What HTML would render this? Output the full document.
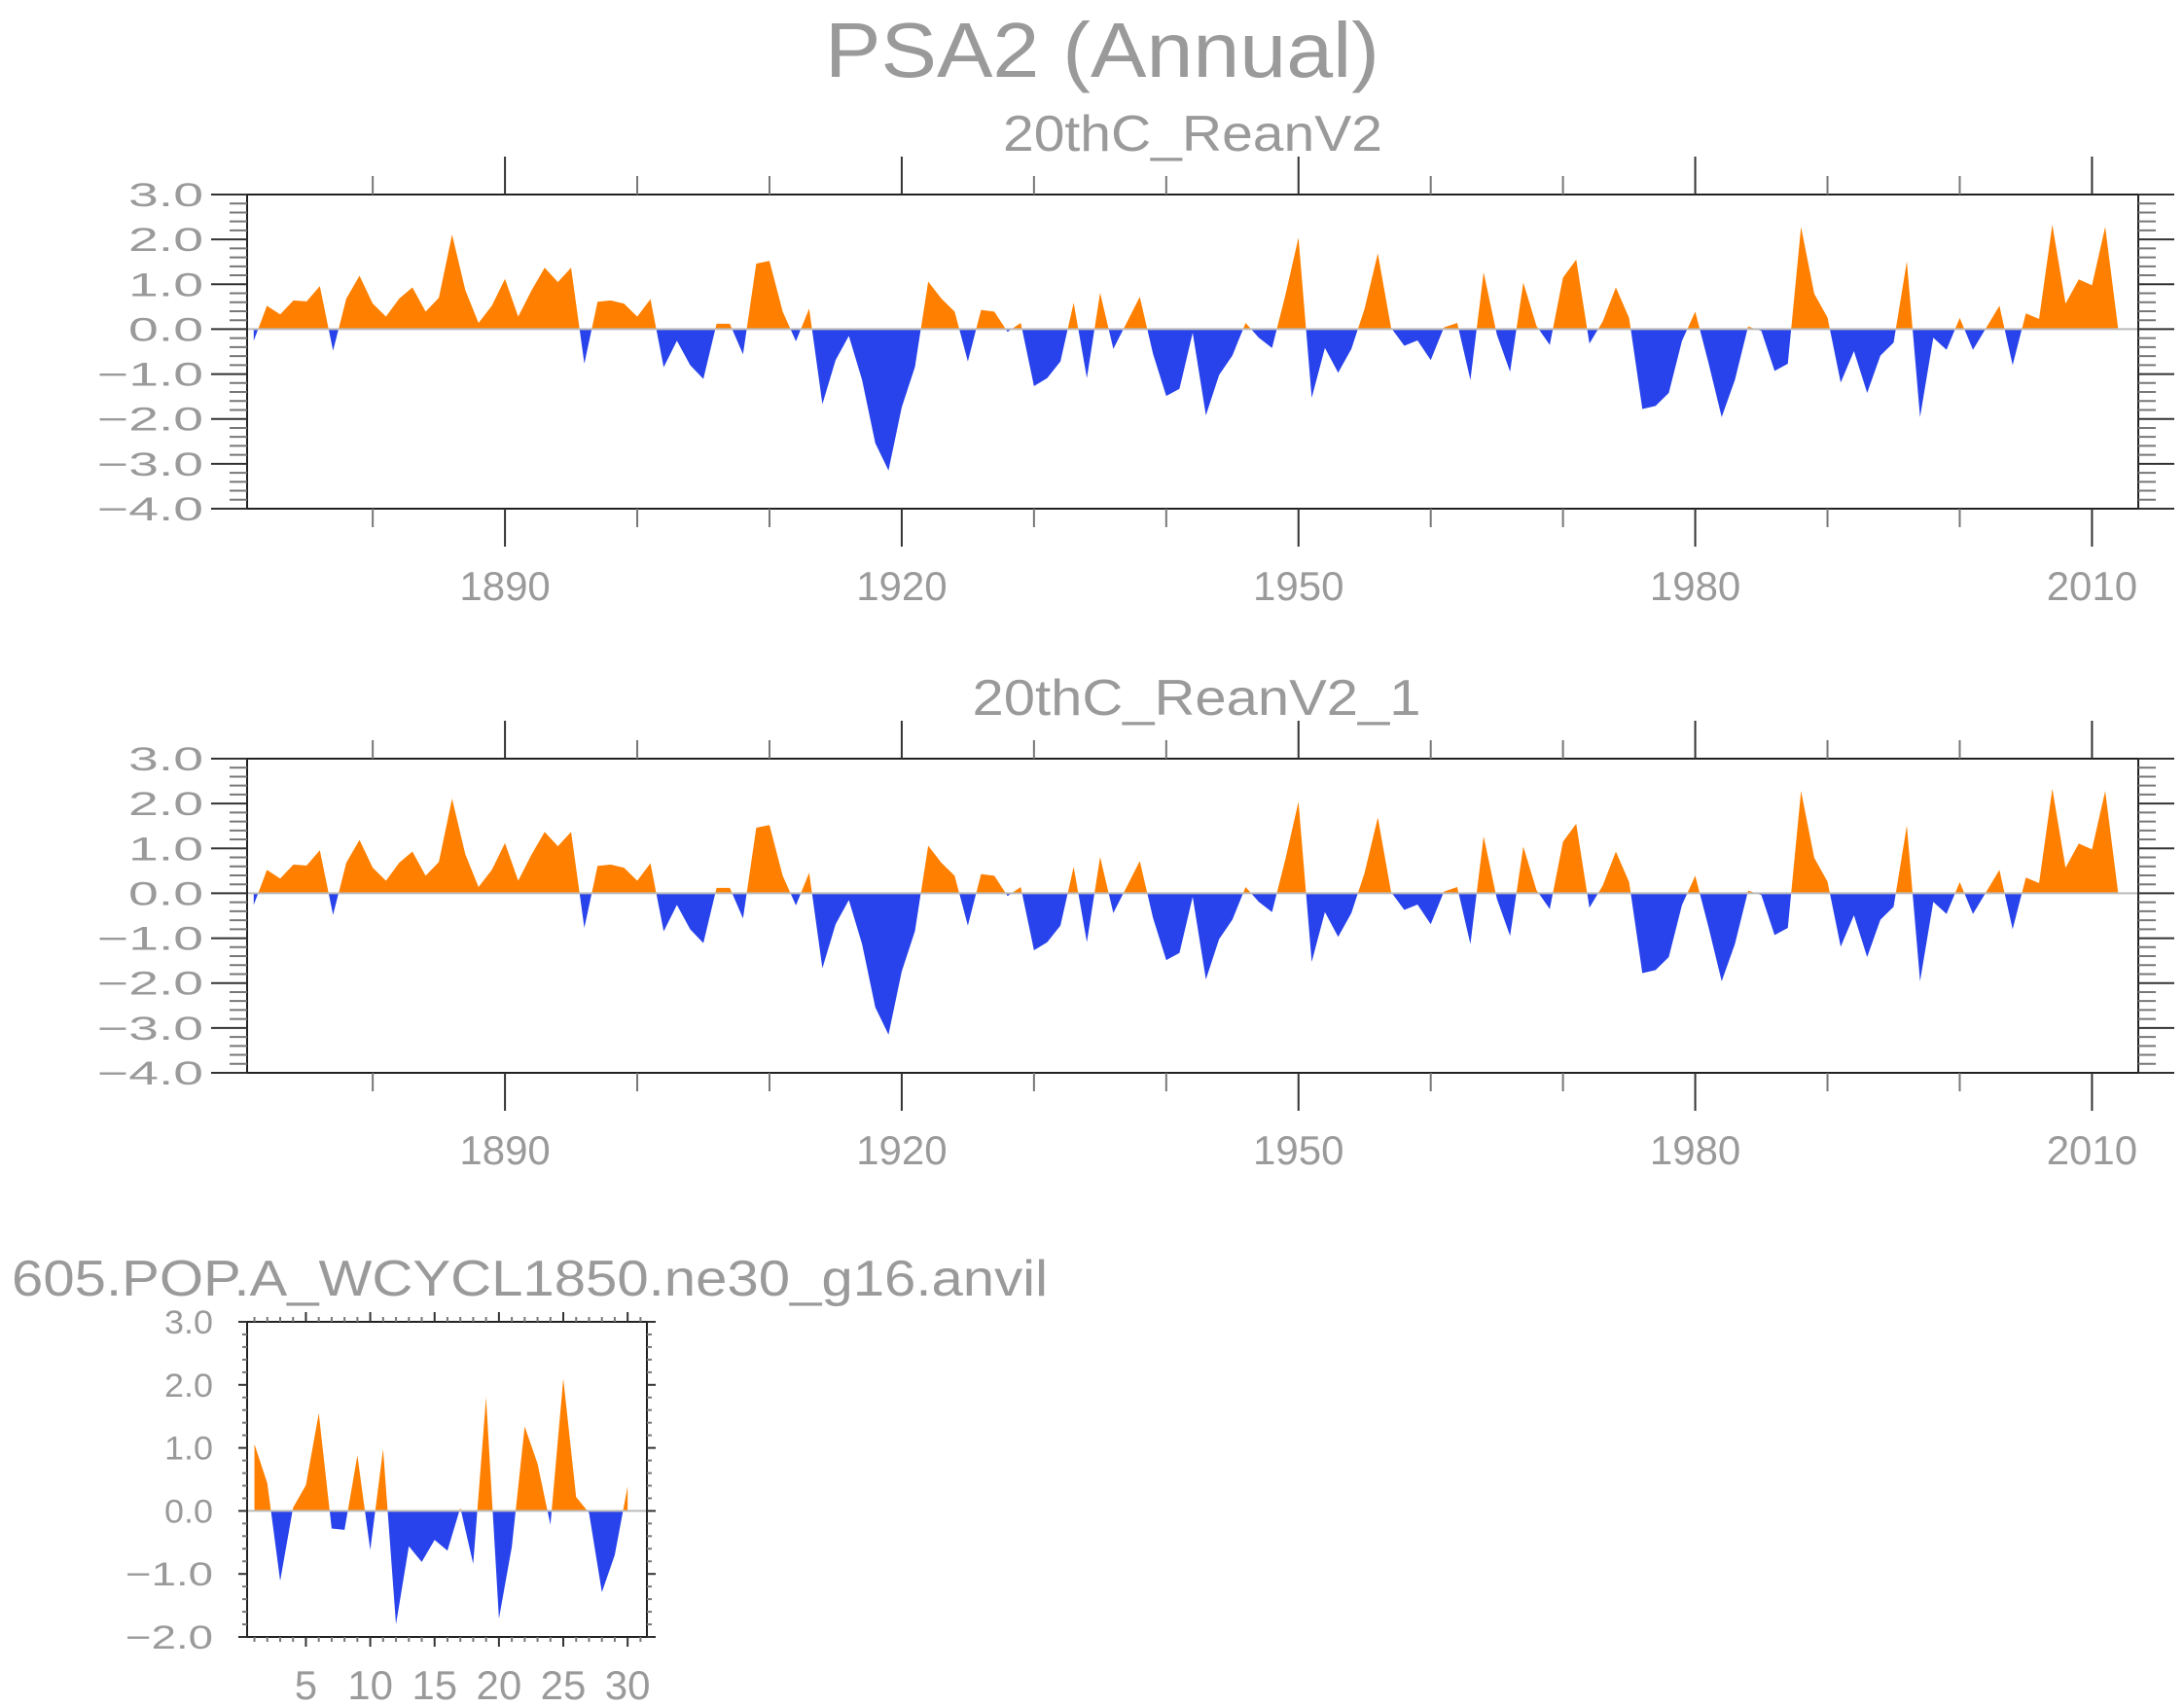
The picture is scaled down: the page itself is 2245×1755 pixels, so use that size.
<!DOCTYPE html>
<html><head><meta charset="utf-8"><style>
html,body{margin:0;padding:0;background:#fff;}
svg{display:block;}
text{font-family:"Liberation Sans",sans-serif;fill:#9a9a9a;}
</style></head><body>
<svg id="chart" width="2245" height="1755" viewBox="0 0 2245 1755" xmlns="http://www.w3.org/2000/svg">
<text x="1133" y="79" font-size="80" text-anchor="middle" textLength="570" lengthAdjust="spacingAndGlyphs">PSA2 (Annual)</text>
<text x="1226" y="155" font-size="52" text-anchor="middle" textLength="390" lengthAdjust="spacingAndGlyphs">20thC_ReanV2</text>
<text x="1230" y="735" font-size="52" text-anchor="middle" textLength="461" lengthAdjust="spacingAndGlyphs">20thC_ReanV2_1</text>
<text x="12" y="1332" font-size="52" textLength="1065" lengthAdjust="spacingAndGlyphs">605.POP.A_WCYCL1850.ne30_g16.anvil</text>
</svg>
<script>
const years = [];
for (let y = 1871; y <= 2012; y++) years.push(y);
const reanValues = [
-0.26,0.52,0.33,0.64,0.62,0.96,-0.48,0.68,1.19,0.57,
0.28,0.68,0.93,0.39,0.70,2.11,0.87,0.14,0.52,1.12,
0.28,0.86,1.37,1.05,1.37,-0.77,0.61,0.64,0.57,0.28,
0.67,-0.85,-0.26,-0.80,-1.11,0.12,0.12,-0.56,1.46,1.52,
0.39,-0.27,0.46,-1.67,-0.69,-0.15,-1.13,-2.54,-3.15,-1.74,
-0.84,1.06,0.68,0.39,-0.72,0.43,0.39,-0.06,0.14,-1.27,
-1.09,-0.72,0.59,-1.09,0.81,-0.44,0.14,0.72,-0.55,-1.49,
-1.33,-0.08,-1.92,-1.02,-0.59,0.14,-0.19,-0.42,0.75,2.04,
-1.53,-0.42,-0.97,-0.44,0.46,1.69,0.03,-0.37,-0.25,-0.69,
0.04,0.14,-1.13,1.27,-0.12,-0.95,1.04,0.07,-0.35,1.15,
1.55,-0.32,0.17,0.93,0.25,-1.78,-1.71,-1.42,-0.26,0.39,
-0.75,-1.96,-1.13,0.06,-0.04,-0.93,-0.77,2.28,0.79,0.26,
-1.19,-0.49,-1.42,-0.59,-0.30,1.51,-1.96,-0.19,-0.46,0.25,
-0.46,0.03,0.52,-0.80,0.35,0.23,2.33,0.57,1.11,0.98,
2.28,-0.04];
const modelYears = [];
for (let i = 1; i <= 30; i++) modelYears.push(i);
const modelValues = [1.06,0.44,-1.11,0.05,0.41,1.55,-0.28,-0.30,0.88,-0.62,
0.98,-1.80,-0.56,-0.81,-0.46,-0.63,0.05,-0.84,1.80,-1.71,
-0.57,1.34,0.75,-0.22,2.10,0.22,-0.03,-1.29,-0.70,0.39];
const yTicksLong = [3,2,1,0,-1,-2,-3,-4];
const yTicksShort = [3,2,1,0,-1,-2];
const xLabelsYears = [1890,1920,1950,1980,2010];
const xLabelsModel = [5,10,15,20,25,30];

const NS = "http://www.w3.org/2000/svg";
const svg = document.getElementById('chart');
function mk(tag, attrs, parent) {
  const e = document.createElementNS(NS, tag);
  for (const k in attrs) e.setAttribute(k, attrs[k]);
  (parent || svg).appendChild(e);
  return e;
}
function fmt(v){ return v < 0 ? "\u2212" + Math.abs(v).toFixed(1) : v.toFixed(1); }

function panel(cfg, xs, vals, yTicks, xLabels, id) {
  const g = mk('g', {});
  
  
  const L = cfg.left, R = cfg.right, T = cfg.top, B = cfg.bottom;
  const xS = v => L + (v - cfg.xmin) / (cfg.xmax - cfg.xmin) * (R - L);
  const yS = v => T + (cfg.ymax - v) / (cfg.ymax - cfg.ymin) * (B - T);
  const y0 = yS(0);
  let d = 'M' + xS(xs[0]) + ' ' + y0;
  for (let i = 0; i < xs.length; i++) d += ' L' + xS(xs[i]).toFixed(2) + ' ' + yS(vals[i]).toFixed(2);
  d += ' L' + xS(xs[xs.length - 1]) + ' ' + y0 + ' Z';
  const defs = mk('defs', {}, g);
  const cu = mk('clipPath', {id: id + '-up'}, defs);
  mk('rect', {x: L, y: T, width: R - L, height: y0 - T}, cu);
  const cd = mk('clipPath', {id: id + '-dn'}, defs);
  mk('rect', {x: L, y: y0, width: R - L, height: B - y0}, cd);
  const pu = mk('path', {d: d, fill: '#ff8000', 'clip-path': 'url(#' + id + '-up)'}, g);
  
  
  const pd = mk('path', {d: d, fill: '#2843eb', 'clip-path': 'url(#' + id + '-dn)'}, g);
  
  
  const zl = mk('line', {x1: L, x2: R, y1: y0, y2: y0, stroke: '#bbb', 'stroke-width': 2}, g);
  
  
  const ext = cfg.ext;
  mk('line', {x1: L - ext, x2: R + ext, y1: T, y2: T, stroke: '#222', 'stroke-width': 2}, g);
  mk('line', {x1: L - ext, x2: R + ext, y1: B, y2: B, stroke: '#222', 'stroke-width': 2}, g);
  mk('line', {x1: L, x2: L, y1: T, y2: B, stroke: '#222', 'stroke-width': 2}, g);
  mk('line', {x1: R, x2: R, y1: T, y2: B, stroke: '#222', 'stroke-width': 2}, g);
  for (let v = cfg.ymin; v <= cfg.ymax + 1e-6; v += 0.2) {
    const vv = Math.round(v * 10) / 10;
    const major = Math.abs(vv - Math.round(vv)) < 1e-6;
    const len = major ? cfg.majorY : cfg.minorY;
    const y = yS(vv);
    mk('line', {x1: L - len, x2: L, y1: y, y2: y, stroke: major ? '#333' : '#777', 'stroke-width': 2}, g);
    mk('line', {x1: R, x2: R + len, y1: y, y2: y, stroke: major ? '#333' : '#777', 'stroke-width': 2}, g);
  }
  yTicks.forEach(v => {
    const t = mk('text', {x: cfg.ylabX, y: yS(v) + 12, 'font-size': cfg.yfs, 'text-anchor': 'end', textLength: v < 0 ? cfg.negW : cfg.posW, lengthAdjust: 'spacingAndGlyphs'}, g);
    t.textContent = fmt(v);
    
    
  });
  for (let v = Math.ceil(cfg.xmin / cfg.minorStep) * cfg.minorStep; v <= cfg.xmax; v += cfg.minorStep) {
    const major = v % cfg.majorStep === cfg.majorOff;
    const len = major ? cfg.majorX : cfg.minorX;
    const x = xS(v);
    mk('line', {x1: x, x2: x, y1: T - len, y2: T, stroke: major ? '#333' : '#777', 'stroke-width': 2}, g);
    mk('line', {x1: x, x2: x, y1: B, y2: B + len, stroke: major ? '#333' : '#777', 'stroke-width': 2}, g);
  }
  xLabels.forEach(v => {
    const t = mk('text', {x: xS(v), y: cfg.xlabY, 'font-size': cfg.xfs, 'text-anchor': 'middle'}, g);
    t.textContent = String(v);
    
    
  });
}
const base1 = {left:254,right:2198,xmin:1870.5,xmax:2013.5,ymin:-4,ymax:3,ext:37,majorY:37,minorY:18,majorX:39,minorX:19,minorStep:10,majorStep:30,majorOff:0,ylabX:209,yfs:34,xfs:42,posW:77,negW:109};
panel(Object.assign({}, base1, {top:200,bottom:523,xlabY:617}), years, reanValues, yTicksLong, xLabelsYears, 'rean');
panel(Object.assign({}, base1, {top:780,bottom:1103,xlabY:1197}), years, reanValues, yTicksLong, xLabelsYears, 'rean1');
panel({left:254,right:665,top:1359,bottom:1683,xmin:0.43,xmax:31.5,ymin:-2,ymax:3,ext:9,majorY:9,minorY:5,majorX:10,minorX:5,minorStep:1,majorStep:5,majorOff:0,ylabX:219,yfs:34,xfs:42,xlabY:1747,posW:50,negW:90}, modelYears, modelValues, yTicksShort, xLabelsModel, 'model');
</script>
</body></html>
